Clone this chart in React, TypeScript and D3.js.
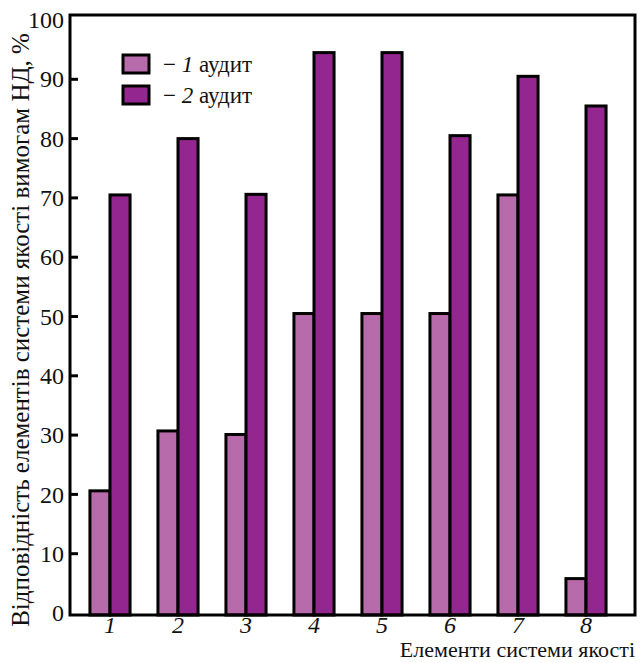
import React from 'react';
import * as d3 from 'd3';

const elements = ['1', '2', '3', '4', '5', '6', '7', '8'];
const audit1 = [20.6, 30.7, 30.1, 50.5, 50.5, 50.5, 70.5, 5.8];
const audit2 = [70.5, 80.0, 70.6, 94.5, 94.5, 80.5, 90.5, 85.5];
const yTicks = [0, 10, 20, 30, 40, 50, 60, 70, 80, 90, 100];
const seriesNames = ['1', '2'];
const colors = ['#B86BAA', '#93278F'];

const W = 644;
const H = 663;
const FONT = 'Liberation Serif';
const serif = { fontFamily: "'Liberation Serif', 'Times New Roman', serif" };
const frame = { left: 70, right: 635, top: 15, bottom: 615 };

const y = d3.scaleLinear().domain([0, 100]).range([613, 20]);
const x = d3.scaleBand<string>()
  .domain(elements)
  .range([76, 620])
  .paddingInner(0.41)
  .paddingOuter(0.205);
const xs = d3.scaleBand<number>().domain([0, 1]).range([0, x.bandwidth()]);

const App: React.FC = () => {
  const series = [audit1, audit2];
  return (
    <svg
      width={W}
      height={H}
      fontFamily={FONT}
      style={{ position: 'absolute', left: 0, top: 0, background: '#fff', ...serif }}
    >
      {/* bars */}
      {elements.map((el, i) => (
        <g key={el} transform={`translate(${x(el)},0)`}>
          {series.map((s, j) => (
            <rect
              key={j}
              x={xs(j)}
              width={xs.bandwidth()}
              y={y(s[i])}
              height={frame.bottom - y(s[i])}
              fill={colors[j]}
              stroke="#000"
              strokeWidth={3}
            />
          ))}
        </g>
      ))}

      {/* frame */}
      <rect
        x={frame.left}
        y={frame.top}
        width={frame.right - frame.left}
        height={frame.bottom - frame.top}
        fill="none"
        stroke="#000"
        strokeWidth={3}
      />

      {/* y axis: inward ticks */}
      {yTicks.map(t => (
        <g key={t} transform={`translate(${frame.left},${y(t)})`}>
          {t > 0 && t < 100 && <line x1={0} x2={8} stroke="#000" strokeWidth={3} />}
          <text x={-6} dy="0.34em" textAnchor="end" fontSize={24} fill="#111" style={serif}>
            {t}
          </text>
        </g>
      ))}

      {/* x tick labels */}
      {elements.map(el => (
        <text
          key={el}
          x={x(el)! + x.bandwidth() / 2}
          y={633}
          textAnchor="middle"
          fontStyle="italic"
          fontSize={24}
          fill="#111"
          style={serif}
        >
          {el}
        </text>
      ))}

      {/* axis titles */}
      <text
        transform={`translate(29,${(47 + 613) / 2}) rotate(-90)`}
        textAnchor="middle"
        fontSize={25}
        fill="#111"
        style={serif}
      >
        Відповідність елементів системи якості вимогам НД, %
      </text>
      <text
        x={frame.right}
        y={657}
        textAnchor="end"
        fontSize={22}
        fill="#111"
        style={serif}
      >
        Елементи системи якості
      </text>

      {/* legend */}
      <g transform="translate(123,55)">
        {seriesNames.map((name, i) => (
          <g key={name} transform={`translate(0,${i * 31})`}>
            <rect width={26} height={18} fill={colors[i]} stroke="#000" strokeWidth={3} />
            <text x={40} y={17} fontSize={23} fill="#111" style={serif}>
              {'− '}
              <tspan fontStyle="italic">{name}</tspan>
              {' аудит'}
            </text>
          </g>
        ))}
      </g>
    </svg>
  );
};

export default App;
